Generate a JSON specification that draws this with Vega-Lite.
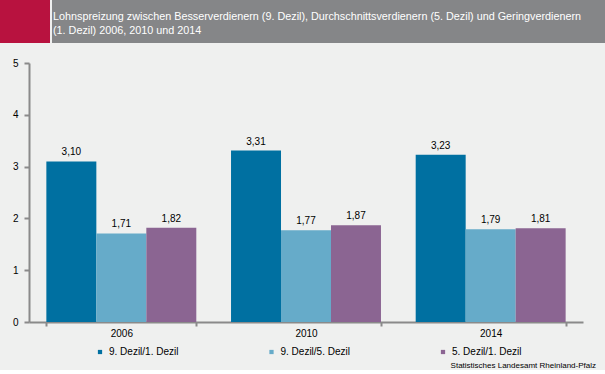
{
  "$schema": "https://vega.github.io/schema/vega-lite/v6.json",
  "background": "#eff0ef",
  "padding": 0,
  "autosize": {"type": "pad"},
  "config": {
    "font": "Liberation Sans",
    "locale": {"number": {"decimal": ",", "thousands": ".", "grouping": [3], "currency": ["", " €"]}},
    "view": {"stroke": null},
    "concat": {"spacing": 2}
  },
  "columns": 1,
  "align": "none",
  "bounds": "full",
  "spacing": 15,
  "resolve": {"legend": {"color": "independent"}},
  "concat": [
    {
      "align": "none",
      "spacing": 2,
      "hconcat": [
        {
          "width": 50,
          "height": 43,
          "view": {"fill": "#b8123f", "stroke": null},
          "data": {"values": [{"t": ""}]},
          "mark": {"type": "text"},
          "encoding": {"text": {"field": "t"}}
        },
        {
          "width": 553,
          "height": 43,
          "view": {"fill": "#858688", "stroke": null},
          "data": {"values": [{"t": ""}]},
          "mark": {"type": "text"},
          "encoding": {"text": {"field": "t"}},
          "title": {
            "text": ["Lohnspreizung zwischen Besserverdienern (9. Dezil), Durchschnittsverdienern (5. Dezil) und Geringverdienern", "(1. Dezil) 2006, 2010 und 2014"],
            "orient": "top",
            "anchor": "start",
            "frame": "group",
            "baseline": "top",
            "offset": -35.5,
            "dx": 1,
            "color": "#ffffff",
            "fontSize": 10.8,
            "fontWeight": "normal",
            "font": "Liberation Sans",
            "lineHeight": 13.6
          }
        }
      ]
    },
    {
      "width": 583,
      "height": 259,
      "data": {
        "values": [
          {"Jahr": "2006", "Reihe": "9. Dezil/1. Dezil", "Wert": 3.10},
          {"Jahr": "2006", "Reihe": "9. Dezil/5. Dezil", "Wert": 1.71},
          {"Jahr": "2006", "Reihe": "5. Dezil/1. Dezil", "Wert": 1.82},
          {"Jahr": "2010", "Reihe": "9. Dezil/1. Dezil", "Wert": 3.31},
          {"Jahr": "2010", "Reihe": "9. Dezil/5. Dezil", "Wert": 1.77},
          {"Jahr": "2010", "Reihe": "5. Dezil/1. Dezil", "Wert": 1.87},
          {"Jahr": "2014", "Reihe": "9. Dezil/1. Dezil", "Wert": 3.23},
          {"Jahr": "2014", "Reihe": "9. Dezil/5. Dezil", "Wert": 1.79},
          {"Jahr": "2014", "Reihe": "5. Dezil/1. Dezil", "Wert": 1.81}
        ]
      },
      "title": {
        "text": "Statistisches Landesamt Rheinland-Pfalz",
        "orient": "bottom",
        "anchor": "end",
        "frame": "group",
        "baseline": "top",
        "offset": 5,
        "dx": 13,
        "fontSize": 8,
        "fontWeight": "normal",
        "color": "#000000"
      },
      "encoding": {
        "x": {
          "field": "Jahr",
          "type": "nominal",
          "scale": {"range": [29, 583], "paddingInner": 0.188, "paddingOuter": 0.094},
          "axis": {
            "title": null,
            "labelAngle": 0,
            "labelFontSize": 10,
            "labelColor": "#000000",
            "labelPadding": 2,
            "tickBand": "extent",
            "tickSize": 4,
            "tickWidth": 2,
            "tickColor": "#8a8a8a",
            "domainColor": "#8a8a8a",
            "domainWidth": 2
          }
        },
        "xOffset": {
          "field": "Reihe",
          "type": "nominal",
          "sort": ["9. Dezil/1. Dezil", "9. Dezil/5. Dezil", "5. Dezil/1. Dezil"],
          "scale": {"paddingInner": 0, "paddingOuter": 0}
        },
        "y": {
          "field": "Wert",
          "type": "quantitative",
          "scale": {"domain": [0, 5], "nice": false},
          "axis": {
            "title": null,
            "offset": -29,
            "values": [0, 1, 2, 3, 4, 5],
            "grid": false,
            "labelFontSize": 10,
            "labelColor": "#000000",
            "labelPadding": 6,
            "tickSize": 5,
            "tickWidth": 2,
            "tickColor": "#8a8a8a",
            "domainColor": "#8a8a8a",
            "domainWidth": 2
          }
        }
      },
      "layer": [
        {
          "mark": {"type": "bar"},
          "encoding": {
            "color": {
              "field": "Reihe",
              "type": "nominal",
              "sort": ["9. Dezil/1. Dezil", "9. Dezil/5. Dezil", "5. Dezil/1. Dezil"],
              "scale": {
                "domain": ["9. Dezil/1. Dezil", "9. Dezil/5. Dezil", "5. Dezil/1. Dezil"],
                "range": ["#0070a1", "#66abc9", "#8b6592"]
              },
              "legend": {
                "title": null,
                "orient": "none",
                "legendX": 95,
                "legendY": 284,
                "direction": "horizontal",
                "columns": 3,
                "columnPadding": 87.5,
                "symbolType": "square",
                "symbolSize": 18,
                "symbolStrokeWidth": 0,
                "labelFontSize": 10,
                "labelColor": "#000000",
                "labelOffset": 4,
                "padding": 0
              }
            }
          }
        },
        {
          "mark": {"type": "text", "dy": -9, "baseline": "middle", "fontSize": 10, "color": "#000000"},
          "encoding": {
            "text": {"field": "Wert", "type": "quantitative", "format": ".2f"}
          }
        }
      ]
    }
  ]
}
